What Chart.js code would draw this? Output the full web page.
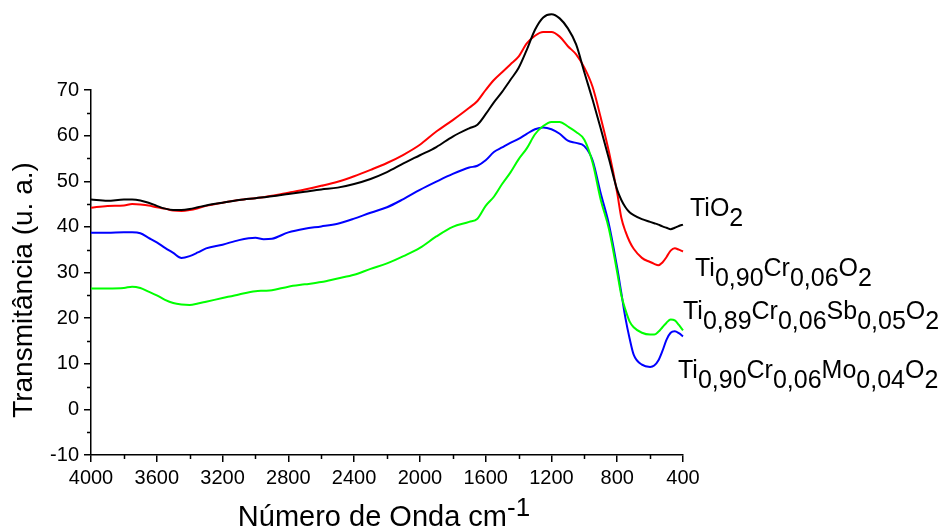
<!DOCTYPE html>
<html lang="pt-BR">
<head>
<meta charset="utf-8">
<title>Transmitância</title>
<script src="https://cdn.jsdelivr.net/npm/chart.js@4.4.1/dist/chart.umd.min.js"></script>
<style>
  html, body { margin: 0; padding: 0; background: #fff; }
  #wrap { width: 950px; height: 531px; position: relative; }
</style>
</head>
<body>
<div id="wrap"><canvas id="grafico"></canvas></div>
<script>
// Número de onda (cm-1), comum às quatro amostras
const numeroOnda = [4000, 3900, 3800, 3750, 3700, 3650, 3600, 3550, 3500, 3450,
    3400, 3350, 3300, 3200, 3100, 3000, 2950, 2900, 2800, 2700,
    2600, 2500, 2400, 2300, 2200, 2100, 2000, 1900, 1800, 1700,
    1650, 1600, 1550, 1500, 1450, 1400, 1350, 1300, 1250, 1200,
    1150, 1100, 1050, 1000, 950, 900, 850, 800, 775, 750,
    725, 700, 650, 600, 575, 550, 525, 500, 475, 450, 425, 400];

const tio2 = [46.0, 45.7, 46.0, 46.0, 45.8, 45.3, 44.6, 44.0, 43.7, 43.7,
    43.9, 44.3, 44.7, 45.3, 45.9, 46.3, 46.5, 46.7, 47.2, 47.7,
    48.2, 48.6, 49.4, 50.5, 52.0, 53.9, 55.7, 57.5, 59.8, 61.6,
    62.4, 64.7, 67.3, 69.6, 72.2, 74.8, 78.8, 83.2, 85.9, 86.6,
    85.7, 83.5, 80.0, 73.9, 67.9, 61.5, 54.9, 48.1, 45.9, 44.3,
    43.2, 42.6, 41.7, 41.1, 40.8, 40.5, 40.1, 39.8, 39.5, 39.8, 40.2, 40.5];

const tiCr = [44.2, 44.6, 44.7, 45.0, 44.9, 44.7, 44.3, 44.0, 43.6, 43.5,
    43.7, 44.1, 44.6, 45.3, 45.9, 46.3, 46.5, 46.8, 47.5, 48.2,
    49.0, 49.9, 51.1, 52.5, 54.0, 55.8, 58.0, 60.9, 63.4, 66.1,
    67.6, 70.0, 72.2, 73.9, 75.6, 77.3, 80.2, 81.9, 82.7, 82.7,
    81.7, 79.6, 77.8, 74.9, 70.7, 63.9, 56.4, 47.4, 42.0, 39.0,
    36.8, 35.2, 33.2, 32.3, 31.9, 31.6, 32.2, 33.4, 34.8, 35.3, 35.0, 34.6];

const tiCrSb = [26.5, 26.5, 26.6, 26.9, 26.6, 25.8, 25.0, 24.0, 23.3, 23.0,
    22.9, 23.2, 23.6, 24.4, 25.2, 25.9, 26.0, 26.1, 26.9, 27.4,
    27.9, 28.7, 29.5, 30.8, 32.0, 33.6, 35.4, 37.9, 40.0, 41.1,
    41.8, 44.6, 46.6, 49.4, 51.9, 54.8, 57.2, 60.3, 62.1, 63.0,
    63.0, 62.0, 60.8, 59.1, 54.1, 45.9, 39.5, 30.0, 25.0, 21.8,
    19.3, 18.0, 16.8, 16.4, 16.4, 17.0, 18.0, 19.0, 19.7, 19.5, 18.5, 17.3];

const tiCrMo = [38.7, 38.7, 38.8, 38.8, 38.6, 37.6, 36.6, 35.4, 34.3, 33.2,
    33.6, 34.4, 35.3, 36.1, 37.1, 37.6, 37.3, 37.4, 38.8, 39.6,
    40.1, 40.7, 41.8, 43.1, 44.3, 46.1, 48.1, 49.9, 51.6, 53.0,
    53.4, 54.6, 56.4, 57.4, 58.4, 59.3, 60.4, 61.4, 61.8, 61.4,
    60.4, 58.9, 58.4, 57.7, 54.6, 47.3, 40.5, 31.0, 25.5, 20.0,
    15.6, 12.0, 9.8, 9.3, 9.6, 10.7, 12.8, 15.3, 16.8, 17.1, 16.7, 16.0];

const nomes = ['TiO2', 'Ti0,90Cr0,06O2', 'Ti0,89Cr0,06Sb0,05O2', 'Ti0,90Cr0,06Mo0,04O2'];
const cores = ['#000000', '#ff0000', '#00ff00', '#0000ff'];

// Rótulos das curvas: [texto, subscrito?]
const rotulos = [
    [['TiO', 0], ['2', 1]],
    [['Ti', 0], ['0,90', 1], ['Cr', 0], ['0,06', 1], ['O', 0], ['2', 1]],
    [['Ti', 0], ['0,89', 1], ['Cr', 0], ['0,06', 1], ['Sb', 0], ['0,05', 1], ['O', 0], ['2', 1]],
    [['Ti', 0], ['0,90', 1], ['Cr', 0], ['0,06', 1], ['Mo', 0], ['0,04', 1], ['O', 0], ['2', 1]]
];

const FONTE = "'Liberation Sans', Arial, sans-serif";

// Rótulos, títulos dos eixos e traços menores
const textosPlugin = {
    id: 'textos',
    afterDraw(chart) {
        const { ctx, chartArea, scales } = chart;
        const pos = [{ dx: 7, y: 216 }, { dx: 12, y: 276 }, { dx: 0, y: 319 }, { dx: -5, y: 378 }];
        ctx.save();
        ctx.fillStyle = '#000';
        ctx.strokeStyle = '#000';
        ctx.lineWidth = 1.5;
        ctx.textBaseline = 'alphabetic';

        // traços menores
        ctx.beginPath();
        for (let v = -5; v < 70; v += 10) {
            const py = Math.round(scales.y.getPixelForValue(v)) + 0.5;
            ctx.moveTo(chartArea.left - 4, py);
            ctx.lineTo(chartArea.left, py);
        }
        for (let w = 600; w < 4000; w += 400) {
            const px = Math.round(scales.x.getPixelForValue(w)) + 0.5;
            ctx.moveTo(px, chartArea.bottom);
            ctx.lineTo(px, chartArea.bottom + 4);
        }
        ctx.stroke();

        // rótulos das curvas
        ctx.textAlign = 'left';
        ctx.font = '25px ' + FONTE;
        rotulos.forEach((partes, i) => {
            let x = chartArea.right + pos[i].dx;
            partes.forEach(([txt, sub]) => {
                ctx.fillText(txt, x, pos[i].y + (sub ? 10 : 0));
                x += ctx.measureText(txt).width;
            });
        });

        // título do eixo x
        const base = 'Número de Onda cm';
        const expo = '-1';
        ctx.font = '29px ' + FONTE;
        const wBase = ctx.measureText(base).width;
        ctx.font = '26px ' + FONTE;
        const wExpo = ctx.measureText(expo).width;
        const x0 = (chartArea.left + chartArea.right) / 2 - (wBase + wExpo) / 2 - 3;
        ctx.font = '29px ' + FONTE;
        ctx.fillText(base, x0, 526);
        ctx.font = '26px ' + FONTE;
        ctx.fillText(expo, x0 + wBase, 516);

        // título do eixo y
        ctx.font = '28px ' + FONTE;
        ctx.textAlign = 'center';
        ctx.translate(32, 290);
        ctx.rotate(-Math.PI / 2);
        ctx.fillText('Transmitância (u. a.)', 0, 0);
        ctx.restore();
    }
};

const series = [tio2, tiCr, tiCrSb, tiCrMo];

new Chart(document.getElementById('grafico'), {
    type: 'line',
    data: {
        datasets: series.map((s, i) => ({
            label: nomes[i],
            data: numeroOnda.map((w, k) => ({ x: w, y: s[k] })),
            borderColor: cores[i],
            borderWidth: 2,
            pointRadius: 0,
            cubicInterpolationMode: 'monotone',
            clip: false,
            fill: false
        }))
    },
    options: {
        responsive: true,
        maintainAspectRatio: false,
        animation: false,
        layout: {
            padding: { top: 90, right: 267, left: 0, bottom: 0 }
        },
        plugins: {
            legend: { display: false },
            tooltip: { enabled: false }
        },
        scales: {
            x: {
                type: 'linear',
                reverse: true,
                min: 400,
                max: 4000,
                afterFit(scale) { scale.height = 76; },
                border: { color: '#000', width: 1.5 },
                grid: { drawOnChartArea: false, color: '#000', lineWidth: 1.5, tickLength: 7 },
                ticks: {
                    stepSize: 400,
                    color: '#000',
                    padding: 4,
                    maxRotation: 0,
                    font: { family: FONTE, size: 20 },
                    callback: v => String(v)
                }
            },
            y: {
                min: -10,
                max: 70,
                afterFit(scale) { scale.width = 91; },
                border: { color: '#000', width: 1.5 },
                grid: { drawOnChartArea: false, color: '#000', lineWidth: 1.5, tickLength: 7 },
                ticks: {
                    stepSize: 10,
                    color: '#000',
                    padding: 5,
                    font: { family: FONTE, size: 20 },
                    callback: v => String(v)
                }
            }
        }
    },
    plugins: [textosPlugin]
});
</script>
</body>
</html>
